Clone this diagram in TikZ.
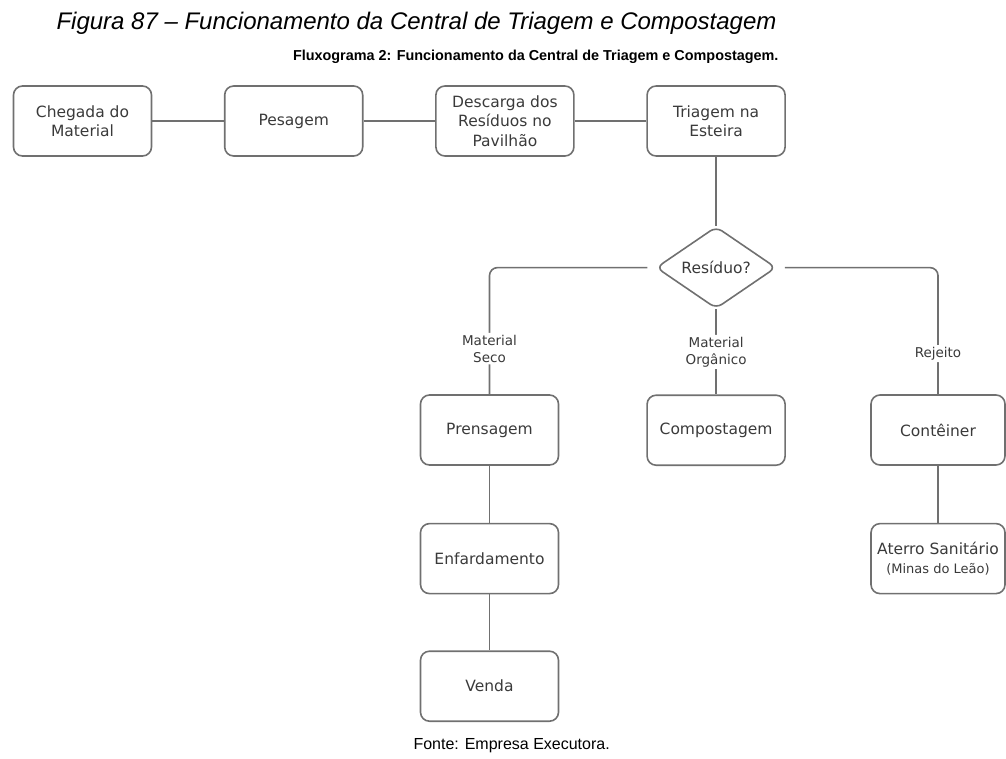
\documentclass[tikz,border=0pt]{standalone}
\usepackage{fontspec}
\usepackage{tikz}
\usetikzlibrary{positioning,shapes,shapes.geometric}
\newfontfamily\boxfont{DejaVu Sans}
\newfontfamily\arialfont{Liberation Sans}
\definecolor{linha}{HTML}{707070}
\definecolor{texto}{HTML}{3A3A3A}
\tikzstyle{etapa}=[rectangle, draw=linha, line width=1.6pt, rounded corners=9pt, minimum width=138pt, minimum height=70pt, inner sep=2pt, align=center, text=texto, font=\boxfont\fontsize{15.5pt}{19.5pt}\selectfont]
\tikzstyle{decisao}=[diamond, draw=linha, line width=1.6pt, rounded corners=7pt, minimum width=120pt, minimum height=82pt, inner sep=0pt, text=texto, font=\boxfont\fontsize{15.5pt}{19.5pt}\selectfont]
\tikzstyle{rotulo}=[fill=white, align=center, inner sep=2pt, text=texto, font=\boxfont\fontsize{13.5pt}{17pt}\selectfont]
\tikzset{link/.style={draw=linha, line width=1.6pt, rounded corners=8pt}}

\begin{document}
\begin{tikzpicture}[x=1pt, y=-1pt]
    \useasboundingbox (0,0) rectangle (1006,758);

        % titulos
        \node(titulo)[anchor=west, font=\arialfont\itshape\fontsize{24pt}{28pt}\selectfont] at (53,23) {Figura 87 – Funcionamento da Central de Triagem e Compostagem};
        \node(subtitulo)[anchor=east, font=\arialfont\bfseries\fontsize{14.4pt}{17pt}\selectfont] at (782,57) {Fluxograma 2: Funcionamento da Central de Triagem e Compostagem.};

        % linha de cima
        \node(chegada)[etapa] at (82.5,121) {Chegada do\\Material};
        \node(pesagem)[etapa, right=71.6pt of chegada] {Pesagem};
        \node(descarga)[etapa, right=71.6pt of pesagem] {Descarga dos\\Resíduos no\\Pavilhão};
        \node(triagem)[etapa, right=71.6pt of descarga] {Triagem na\\Esteira};

        \node(residuo)[decisao, below=69pt of triagem] {Resíduo?};

        % destinos
        \node(compostagem)[etapa, below=85pt of residuo] {Compostagem};
        \node(prensagem)[etapa] at (489.5,430) {Prensagem};
        \node(conteiner)[etapa, minimum width=134pt] at (938,430) {Contêiner};

        \node(enfardamento)[etapa, below=57pt of prensagem] {Enfardamento};
        \node(venda)[etapa, below=56pt of enfardamento] {Venda};
        \node(aterro)[etapa, minimum width=134pt, below=57pt of conteiner] {Aterro Sanitário\\{\fontsize{13pt}{16pt}\selectfont(Minas do Leão)}};

        \node(fonte)[anchor=west, font=\arialfont\fontsize{16pt}{19pt}\selectfont] at (410,746) {Fonte: Empresa Executora.};

        % ligacoes
        \draw[link] (chegada) -- (pesagem);
        \draw[link] (pesagem) -- (descarga);
        \draw[link] (descarga) -- (triagem);
        \draw[link] (triagem) -- (residuo);

        \draw[link, shorten <=8pt] (residuo) -| node[rotulo, pos=0.82]{Material\\Seco} (prensagem);
        \draw[link] (residuo) -- node[rotulo, pos=0.5]{Material\\Orgânico} (compostagem);
        \draw[link, shorten <=8pt] (residuo) -| node[rotulo, pos=0.84]{Rejeito} (conteiner);

        \draw[link] (prensagem) -- (enfardamento);
        \draw[link] (enfardamento) -- (venda);
        \draw[link] (conteiner) -- (aterro);

    \end{tikzpicture}
\end{document}
